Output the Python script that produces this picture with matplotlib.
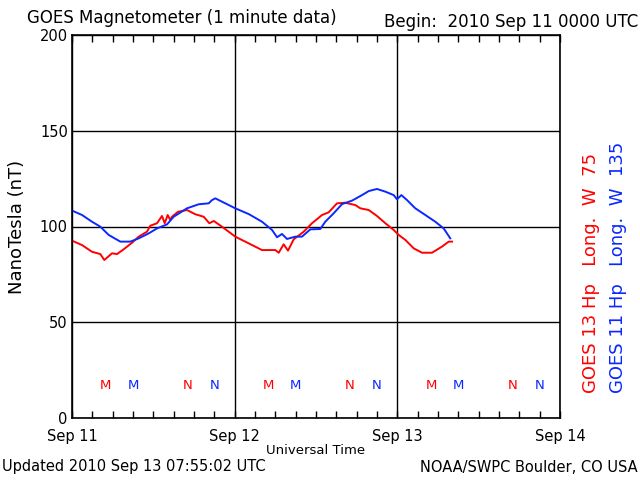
import matplotlib
matplotlib.use("Agg")
import matplotlib.pyplot as plt
from matplotlib.ticker import MultipleLocator

# GOES 13 (red): hours since 2010 Sep 11 00 UT, nT
g13_hours = [0.0, 1.48, 2.95, 4.18, 4.77, 5.90, 6.64, 7.63, 8.85, 9.84, 11.07, 11.55, 12.54, 13.28,
             13.68, 14.12, 14.50, 14.75, 15.64, 16.97, 18.19, 19.43, 20.26, 20.91, 22.13, 24.09,
             26.07, 28.03, 30.0, 30.50, 31.23, 31.87, 32.71, 34.19, 35.41, 36.89, 37.87, 39.10,
             40.32, 41.80, 42.54, 43.78, 45.0, 46.23, 47.46, 48.20, 49.18, 50.41, 51.64, 53.11,
             54.59, 55.58, 56.07]
g13_vals = [92.6, 90.3, 86.8, 85.6, 82.5, 86.0, 85.6, 88.1, 91.5, 94.7, 97.3, 100.4, 101.7, 105.5,
            101.7, 106.0, 103.4, 105.1, 107.7, 108.6, 106.4, 105.1, 101.7, 102.9, 99.9, 94.7,
            91.2, 87.7, 87.7, 86.3, 90.7, 87.4, 93.3, 97.3, 101.7, 106.0, 107.4, 112.1,
            112.4, 111.2, 109.5, 108.6, 105.5, 101.7, 98.2, 95.6, 93.0, 88.6, 86.3, 86.3,
            89.5, 92.1, 92.1]

# GOES 11 (blue)
g11_hours = [0.0, 1.48, 2.95, 4.18, 5.41, 7.13, 8.60, 9.84, 11.32, 12.54, 14.02, 15.0, 16.97, 18.69,
             20.17, 20.66, 21.14, 22.62, 24.09, 26.07, 28.03, 29.51, 30.25, 30.98, 31.72, 32.95,
             33.93, 35.16, 36.63, 37.37, 38.61, 39.84, 41.31, 42.79, 43.78, 45.0, 46.23, 47.46,
             47.95, 48.59, 49.43, 50.65, 52.13, 53.60, 54.84, 55.81]
g11_vals = [108.3, 106.0, 102.5, 99.9, 95.6, 92.1, 92.1, 93.8, 96.4, 99.0, 101.1, 105.1, 109.5, 111.6,
            112.1, 113.8, 114.7, 112.1, 109.5, 106.5, 102.5, 98.2, 94.4, 96.1, 93.5, 94.7,
            94.7, 98.5, 98.7, 102.5, 106.9, 111.7, 113.5, 116.4, 118.5, 119.6, 118.2, 116.4,
            114.2, 116.4, 113.8, 109.5, 106.0, 102.5, 99.0, 93.8]

# local midnight (M) and noon (N) markers, hours
g13_m = [5, 29, 53]
g13_n = [17, 41, 65]
g11_m = [9, 33, 57]
g11_n = [21, 45, 69]

day_ticks = [0, 24, 48, 72]
day_labels = ["Sep 11", "Sep 12", "Sep 13", "Sep 14"]
y_ticks = [0, 50, 100, 150, 200]

RED = "#ff0000"
BLUE = "#0a28ff"

fig = plt.figure(figsize=(6.4, 4.8), dpi=100)
ax = fig.add_axes([72/640, 1-418/480, (560-72)/640, (418-35)/480])

ax.plot(g13_hours, g13_vals, color=RED, lw=1.4)
ax.plot(g11_hours, g11_vals, color=BLUE, lw=1.4)

mark_y = 17
for h in g13_m:
    ax.text(h, mark_y, "M", color=RED, ha="center", va="center", fontsize=9.5)
for h in g13_n:
    ax.text(h, mark_y, "N", color=RED, ha="center", va="center", fontsize=9.5)
for h in g11_m:
    ax.text(h, mark_y, "M", color=BLUE, ha="center", va="center", fontsize=9.5)
for h in g11_n:
    ax.text(h, mark_y, "N", color=BLUE, ha="center", va="center", fontsize=9.5)

ax.set_xlim(0, 72)
ax.set_ylim(0, 200)
ax.set_xticks(day_ticks)
ax.set_xticklabels(day_labels, fontsize=10.5)
ax.xaxis.set_minor_locator(MultipleLocator(3))
ax.set_yticks(y_ticks)
ax.set_yticklabels([str(v) for v in y_ticks], fontsize=10.5)
ax.tick_params(axis="x", which="both", direction="in", top=True, bottom=True, length=5, width=1, pad=8)
ax.tick_params(axis="y", which="both", length=0, pad=3)
ax.grid(True, which="major", color="black", lw=1)
for s in ax.spines.values():
    s.set_linewidth(1.2)

ax.set_ylabel("NanoTesla (nT)", fontsize=13, labelpad=10)
ax.set_xlabel("Universal Time", fontsize=9.5, labelpad=0)

fig.text(27/640, 1-18/480, "GOES Magnetometer (1 minute data)", fontsize=12, ha="left", va="center")
fig.text(638/640, 1-22/480, "Begin:  2010 Sep 11 0000 UTC", fontsize=12, ha="right", va="center")
fig.text(2/640, 1-467/480, "Updated 2010 Sep 13 07:55:02 UTC", fontsize=10.5, ha="left", va="center")
fig.text(638/640, 1-467/480, "NOAA/SWPC Boulder, CO USA", fontsize=10.5, ha="right", va="center")

fig.text(591/640, 1-393/480, "GOES 13 Hp   Long.  W  75", color=RED, fontsize=13, rotation=90,
         ha="center", va="bottom")
fig.text(618/640, 1-393/480, "GOES 11 Hp   Long.  W  135", color=BLUE, fontsize=13, rotation=90,
         ha="center", va="bottom")

fig.savefig("out.png", dpi=100)
